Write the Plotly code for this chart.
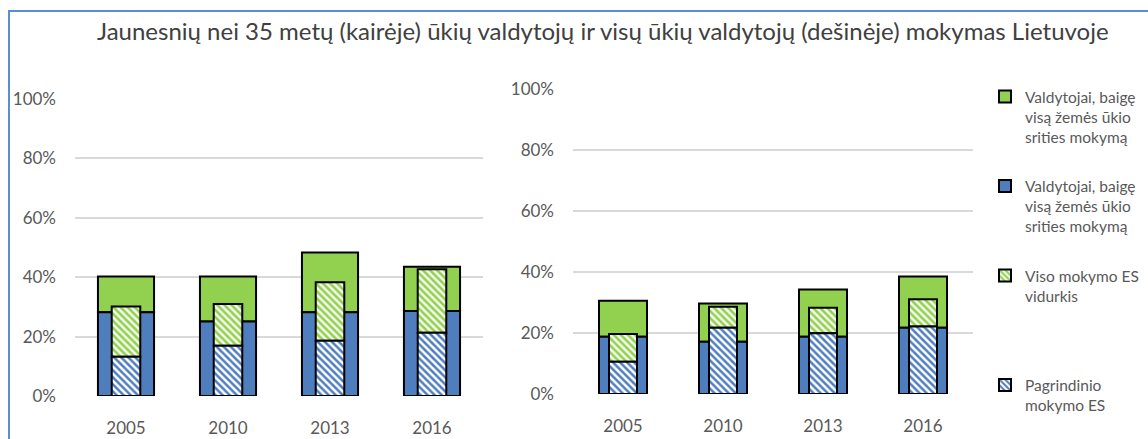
import plotly.graph_objects as go

years = ["2005", "2010", "2013", "2016"]

# Left panel: young farm managers (<35)
left_basic = [28.2, 25.1, 28.2, 28.6]          # blue solid segment
left_full = [12.0, 15.1, 20.1, 14.9]           # green solid segment (stacked above blue)
left_eu_basic = [13.2, 16.9, 18.6, 21.3]       # blue hatched (EU basic)
left_eu_full = [16.9, 14.1, 19.7, 21.4]        # green hatched segment (EU full average)

# Right panel: all farm managers
right_basic = [18.8, 17.1, 18.8, 21.7]
right_full = [11.8, 12.6, 15.5, 16.8]
right_eu_basic = [10.6, 21.7, 19.9, 22.1]
right_eu_full = [9.1, 6.9, 8.4, 9.0]

legend_names = [
    "Valdytojai, baigę<br>visą žemės ūkio<br>srities mokymą",
    "Valdytojai, baigę<br>visą žemės ūkio<br>srities mokymą",
    "Viso mokymo ES<br>vidurkis<br>\u00a0<br>\u00a0",
    "Pagrindinio<br>mokymo ES",
]
y_ticks = [0, 20, 40, 60, 80, 100]
y_tick_text = ["0%", "20%", "40%", "60%", "80%", "100%"]

title = "Jaunesnių nei 35 metų (kairėje) ūkių valdytojų ir visų ūkių valdytojų (dešinėje) mokymas Lietuvoje"

BLUE = "#4F7EBE"
GREEN = "#92D050"
FONT = "Lato"
GRAY = "#595959"
W, H = 1148, 439

fig = go.Figure()


def add_panel(xa, ya, basic, full, eu_basic, eu_full, outer_w, show):
    line = dict(color="black", width=2)
    fig.add_trace(go.Bar(
        x=years, y=full, base=basic, width=outer_w, marker=dict(color=GREEN, line=line),
        name=legend_names[0], legendgroup="a", showlegend=show,
        xaxis=xa, yaxis=ya))
    fig.add_trace(go.Bar(
        x=years, y=basic, width=outer_w, marker=dict(color=BLUE, line=line),
        name=legend_names[1], legendgroup="b", showlegend=show,
        xaxis=xa, yaxis=ya))
    fig.add_trace(go.Bar(
        x=years, y=eu_full, base=eu_basic, width=0.28,
        marker=dict(color="#F4FAEC", line=line,
                    pattern=dict(shape="\\", fgcolor=GREEN, bgcolor="#F4FAEC",
                                 size=5, solidity=0.5, fgopacity=1)),
        name=legend_names[2], legendgroup="c", showlegend=show,
        xaxis=xa, yaxis=ya))
    fig.add_trace(go.Bar(
        x=years, y=eu_basic, width=0.28,
        marker=dict(color="white", line=line,
                    pattern=dict(shape="\\", fgcolor=BLUE, bgcolor="white",
                                 size=5, solidity=0.5, fgopacity=1)),
        name=legend_names[3], legendgroup="d", showlegend=show,
        xaxis=xa, yaxis=ya))


add_panel("x", "y", left_basic, left_full, left_eu_basic, left_eu_full, 0.55, True)
add_panel("x2", "y2", right_basic, right_full, right_eu_basic, right_eu_full, 0.48, False)

xcommon = dict(type="category", showgrid=False, showline=False, zeroline=False,
               ticks="", tickfont=dict(family=FONT, size=17, color=GRAY),
               ticklabelstandoff=20, fixedrange=True)
ycommon = dict(range=[0, 100], tickvals=y_ticks, ticktext=y_tick_text,
               showgrid=True, gridcolor="#D9D9D9", gridwidth=1.5,
               zeroline=False, showline=False, ticks="",
               tickfont=dict(family=FONT, size=17, color=GRAY),
               ticklabelstandoff=18, fixedrange=True)

fig.update_layout(
    width=W, height=H,
    margin=dict(l=0, r=0, t=0, b=0, autoexpand=False),
    paper_bgcolor="white", plot_bgcolor="white",
    barmode="overlay",
    xaxis=dict(domain=[75 / W, 483 / W], anchor="y", **xcommon),
    yaxis=dict(domain=[(H - 396) / H, (H - 99) / H], anchor="x", **ycommon),
    xaxis2=dict(domain=[573 / W, 973 / W], anchor="y2", **xcommon),
    yaxis2=dict(domain=[(H - 394) / H, (H - 89) / H], anchor="x2", **ycommon),
    legend=dict(x=985 / W, y=1 - 80 / H, xanchor="left", yanchor="top",
                font=dict(family=FONT, size=15.5, color=GRAY), valign="top",
                traceorder="grouped", tracegroupgap=26, bgcolor="rgba(0,0,0,0)"),
    annotations=[dict(text=title, x=603 / W, y=1 - 30 / H, xref="paper", yref="paper",
                      xanchor="center", yanchor="middle", showarrow=False,
                      font=dict(family=FONT, size=24, color="#404040"))],
    shapes=[dict(type="rect", xref="paper", yref="paper",
                 x0=9 / W, x1=1.05, y0=-0.05, y1=1 - 11 / H,
                 line=dict(color="#5B8DD0", width=2), fillcolor="rgba(0,0,0,0)")],
)

fig.write_html(
    "out.html",
    config={"displayModeBar": False},
    post_script="document.body.style.margin='0';document.body.style.overflow='hidden';",
)
